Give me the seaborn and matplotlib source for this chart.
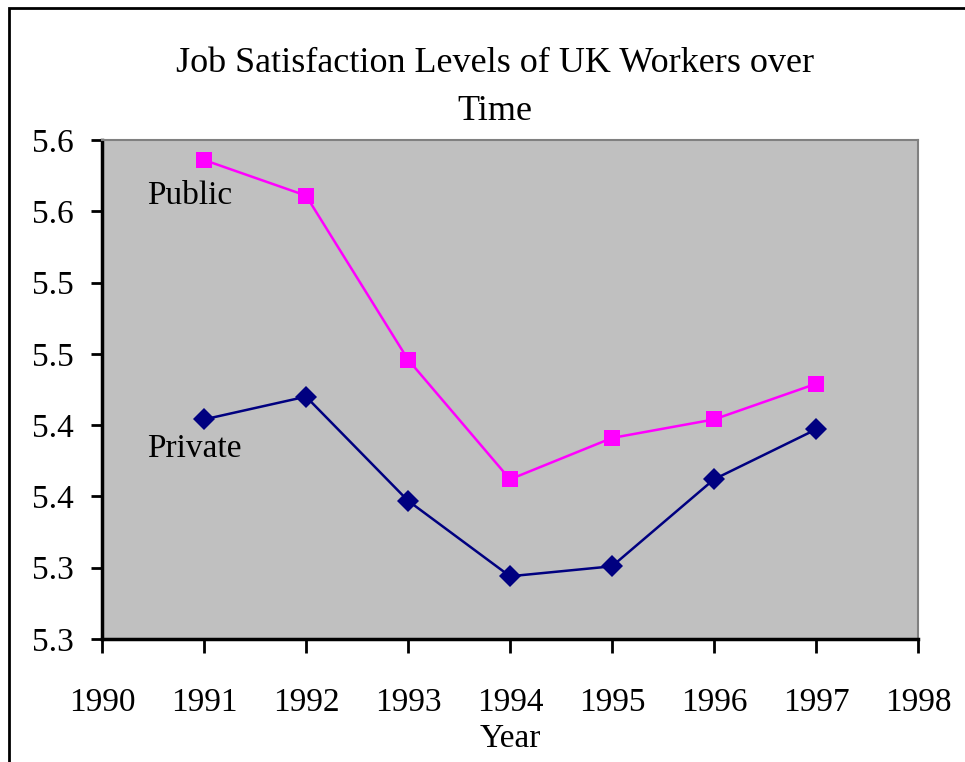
#!/usr/bin/env python3
"""Job satisfaction of UK public and private sector workers, 1991-1997."""

import matplotlib

matplotlib.use("Agg")
import matplotlib.pyplot as plt
import matplotlib.patches as mpatches
import pandas as pd
import seaborn as sns

years = [1991, 1992, 1993, 1994, 1995, 1996, 1997]
public = [5.586, 5.561, 5.446, 5.362, 5.391, 5.404, 5.429]
private = [5.404, 5.420, 5.347, 5.294, 5.301, 5.362, 5.397]
y_ticks = [5.25, 5.30, 5.35, 5.40, 5.45, 5.50, 5.55, 5.60]
x_ticks = [1990, 1991, 1992, 1993, 1994, 1995, 1996, 1997, 1998]

df = pd.DataFrame({"Year": years, "Public": public, "Private": private})
long_df = df.melt(id_vars="Year", var_name="Sector", value_name="Satisfaction")

sns.set_style("white")
plt.rcParams["font.family"] = ["Liberation Serif", "DejaVu Serif"]
plt.rcParams["text.color"] = "black"
plt.rcParams["axes.labelcolor"] = "black"

fig = plt.figure(figsize=(9.65, 7.62), dpi=100)
ax = fig.add_axes([102 / 965, 1 - 639 / 762, 816 / 965, 499 / 762])
ax.set_facecolor("#C0C0C0")

sns.lineplot(
    data=long_df,
    x="Year",
    y="Satisfaction",
    hue="Sector",
    style="Sector",
    palette={"Public": "#FF00FF", "Private": "#000080"},
    markers={"Public": "s", "Private": "D"},
    dashes=False,
    markersize=11,
    linewidth=1.8,
    markeredgewidth=0,
    legend=False,
    ax=ax,
)

ax.set_xlim(1990, 1998)
ax.set_ylim(5.25, 5.60)
ax.set_xticks(x_ticks)
ax.set_xticklabels([str(x) for x in x_ticks])
ax.set_yticks(y_ticks)
ax.set_yticklabels([f"{round(v + 1e-9, 1):.1f}" for v in y_ticks])
ax.tick_params(axis="both", direction="out", labelsize=24, colors="black",
               bottom=True, left=True)
ax.tick_params(axis="x", length=10, width=2, pad=25)
ax.tick_params(axis="y", length=8, width=2, pad=12)

for side in ("left", "bottom"):
    ax.spines[side].set_color("black")
    ax.spines[side].set_linewidth(2.5)
for side in ("top", "right"):
    ax.spines[side].set_color("#808080")
    ax.spines[side].set_linewidth(1.5)

ax.set_xlabel("Year", fontsize=24, labelpad=4)
ax.set_ylabel("")

ax.text(1990.44, 5.555, "Public", fontsize=24, va="baseline", ha="left")
ax.text(1990.44, 5.378, "Private", fontsize=24, va="baseline", ha="left")

fig.text(
    495 / 965,
    1 - 87 / 762,
    "Job Satisfaction Levels of UK Workers over\nTime",
    fontsize=26,
    ha="center",
    va="center",
    linespacing=1.6,
)

fig.patches.append(
    mpatches.Rectangle(
        (9 / 965, -0.05),
        1.2,
        1 - 8 / 762 + 0.05,
        transform=fig.transFigure,
        fill=False,
        edgecolor="black",
        linewidth=2,
    )
)

fig.savefig("out.png", dpi=100)
